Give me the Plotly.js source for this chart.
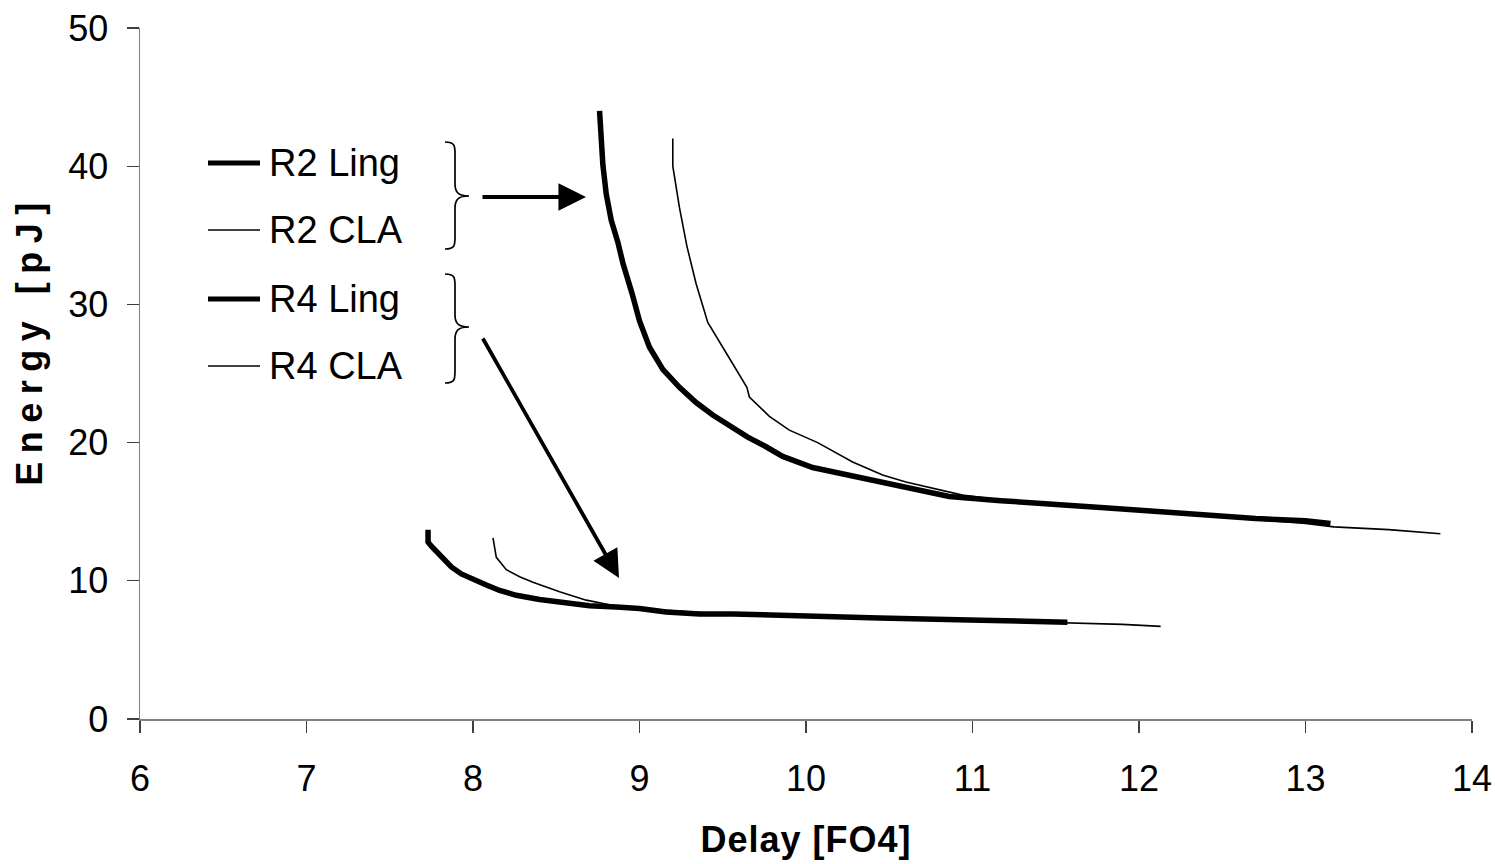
<!DOCTYPE html>
<html>
<head>
<meta charset="utf-8">
<script src="https://cdn.plot.ly/plotly-3.0.1.min.js"></script>
<style>html,body{margin:0;padding:0;background:#fff;}#chart{width:1495px;height:864px;}</style>
</head>
<body>
<div id="chart"></div>
<script>
// ---- data ----
const r2LingX = [8.76, 8.77, 8.78, 8.80, 8.83, 8.87, 8.90, 8.955, 9.00, 9.06, 9.14, 9.24, 9.34, 9.44, 9.55, 9.65, 9.76, 9.86, 10.04, 10.20, 10.37, 10.56, 10.86, 11.17, 11.47, 11.77, 12.07, 12.37, 12.70, 13.00, 13.15];
const r2LingY = [44.0, 42.0, 40.1, 38.0, 36.1, 34.5, 33.0, 30.8, 28.8, 26.9, 25.3, 24.0, 22.9, 22.0, 21.1, 20.4, 19.7, 19.0, 18.2, 17.8, 17.3, 16.8, 16.1, 15.8, 15.6, 15.3, 15.05, 14.75, 14.5, 14.35, 14.15];

const r2ClaX = [9.20, 9.20, 9.24, 9.285, 9.34, 9.41, 9.53, 9.645, 9.66, 9.78, 9.90, 10.07, 10.28, 10.46, 10.60, 10.76, 10.94, 11.2, 11.5, 11.8, 12.1, 12.4, 12.7, 13.0, 13.17, 13.5, 13.81];
const r2ClaY = [42.0, 40.0, 37.0, 34.2, 31.5, 28.7, 26.3, 24.0, 23.3, 21.9, 20.9, 20.0, 18.6, 17.65, 17.15, 16.7, 16.2, 15.8, 15.5, 15.2, 14.95, 14.7, 14.4, 14.15, 13.9, 13.7, 13.4];

const r4LingX = [7.73, 7.73, 7.75, 7.78, 7.82, 7.87, 7.93, 8.00, 8.08, 8.16, 8.26, 8.40, 8.56, 8.70, 8.86, 9.00, 9.16, 9.36, 9.56, 9.96, 10.44, 11.05, 11.57];
const r4LingY = [13.7, 12.8, 12.5, 12.1, 11.6, 11.0, 10.5, 10.1, 9.7, 9.3, 8.95, 8.65, 8.4, 8.2, 8.1, 8.0, 7.75, 7.6, 7.6, 7.45, 7.3, 7.15, 7.0];

const r4ClaX = [8.12, 8.14, 8.20, 8.28, 8.36, 8.52, 8.68, 8.85, 9.0, 9.5, 10.0, 10.5, 11.0, 11.57, 11.9, 12.13];
const r4ClaY = [13.1, 11.7, 10.8, 10.3, 9.9, 9.2, 8.6, 8.2, 8.0, 7.6, 7.45, 7.3, 7.15, 6.95, 6.85, 6.7];

const seriesNames = ["R2 Ling", "R2 CLA", "R4 Ling", "R4 CLA"];
const xTicks = [6, 7, 8, 9, 10, 11, 12, 13, 14];
const yTicks = [0, 10, 20, 30, 40, 50];

// ---- layout helpers (pixel -> data, based on axis ranges & margins) ----
const W = 1495, H = 864, M = {l: 140, r: 23, t: 28, b: 145};
const XR = [6, 14], YR = [0, 50];
const px2x = p => XR[0] + (p - M.l) / (W - M.l - M.r) * (XR[1] - XR[0]);
const px2y = p => YR[0] + (H - M.b - p) / (H - M.t - M.b) * (YR[1] - YR[0]);

const FONT = "Liberation Sans, Arial, sans-serif";
const THICK = 5.5, THIN = 1.6;

const traces = [
  {x: r2ClaX, y: r2ClaY, name: seriesNames[1], mode: "lines", line: {color: "#000", width: THIN}},
  {x: r4ClaX, y: r4ClaY, name: seriesNames[3], mode: "lines", line: {color: "#000", width: THIN}},
  {x: r2LingX, y: r2LingY, name: seriesNames[0], mode: "lines", line: {color: "#000", width: THICK}},
  {x: r4LingX, y: r4LingY, name: seriesNames[2], mode: "lines", line: {color: "#000", width: THICK}}
];

// manual legend
const legRows = [163, 230, 299, 366];
const legThick = [true, false, true, false];
const shapes = [];
const annotations = [];
legRows.forEach((py, i) => {
  shapes.push({type: "line", xref: "x", yref: "y", x0: px2x(208), x1: px2x(260), y0: px2y(py), y1: px2y(py),
    line: {color: "#000", width: legThick[i] ? 5 : 1.3}});
  annotations.push({xref: "x", yref: "y", x: px2x(267), y: px2y(py), text: seriesNames[i], showarrow: false,
    xanchor: "left", yanchor: "middle", font: {family: FONT, size: 38, color: "#000"}});
});

// braces
function bracePath(top, mid, bot) {
  const xl = 445, xs = 455, xt = 469;
  const P = (a, b) => px2x(a) + "," + px2y(b);
  return "M" + P(xl, top) +
    " C" + P(xs, top) + " " + P(xs, top + 4) + " " + P(xs, top + 12) +
    " L" + P(xs, mid - 12) +
    " C" + P(xs, mid - 3) + " " + P(xs + 4, mid) + " " + P(xt, mid) +
    " C" + P(xs + 4, mid) + " " + P(xs, mid + 3) + " " + P(xs, mid + 12) +
    " L" + P(xs, bot - 12) +
    " C" + P(xs, bot - 4) + " " + P(xs, bot) + " " + P(xl, bot);
}
shapes.push({type: "path", xref: "x", yref: "y", path: bracePath(142, 196, 249), line: {color: "#000", width: 1.7}});
shapes.push({type: "path", xref: "x", yref: "y", path: bracePath(274, 327, 383), line: {color: "#000", width: 1.7}});

// arrows
annotations.push({xref: "x", yref: "y", axref: "x", ayref: "y", x: px2x(586), y: px2y(197), ax: px2x(481), ay: px2y(197),
  text: "", showarrow: true, arrowhead: 2, arrowwidth: 3.8, arrowsize: 1.45, arrowcolor: "#000"});
annotations.push({xref: "x", yref: "y", axref: "x", ayref: "y", x: px2x(619), y: px2y(578), ax: px2x(482), ay: px2y(337),
  text: "", showarrow: true, arrowhead: 2, arrowwidth: 3.8, arrowsize: 1.45, arrowcolor: "#000"});

// y title as annotation (positioned as in the reference)
annotations.push({xref: "paper", yref: "paper", x: (30 - M.l) / (W - M.l - M.r), y: (H - M.b - 340) / (H - M.t - M.b),
  text: "<b>Energy [pJ]</b>", textangle: -90, showarrow: false, xanchor: "center", yanchor: "middle",
  font: {family: FONT, size: 36, color: "#000"}, name: "ytitle"});

const layout = {
  width: W, height: H,
  margin: M,
  paper_bgcolor: "#fff", plot_bgcolor: "#fff",
  showlegend: false,
  font: {family: FONT, color: "#000"},
  xaxis: {
    range: XR, tickvals: xTicks, ticktext: xTicks.map(String),
    showgrid: false, zeroline: false, showline: true, linecolor: "#808080", linewidth: 1.5,
    ticks: "outside", ticklen: 12, tickwidth: 1.3, tickcolor: "#404040",
    tickfont: {family: FONT, size: 36, color: "#000"}, ticklabelstandoff: 15,
    title: {text: "<b>Delay [FO4]</b>", font: {family: FONT, size: 36, color: "#000"}, standoff: 29}
  },
  yaxis: {
    range: YR, tickvals: yTicks, ticktext: yTicks.map(String),
    showgrid: false, zeroline: false, showline: true, linecolor: "#808080", linewidth: 1.5,
    ticks: "outside", ticklen: 12, tickwidth: 1.3, tickcolor: "#404040",
    tickfont: {family: FONT, size: 36, color: "#000"}, ticklabelstandoff: 11
  },
  shapes: shapes,
  annotations: annotations
};

Plotly.newPlot("chart", traces, layout, {displayModeBar: false, staticPlot: true}).then(gd => {
  // widen letter spacing of titles to match the reference typesetting
  gd.querySelectorAll(".annotation-text").forEach(t => {
    if (t.textContent === "Energy [pJ]") t.style.letterSpacing = "8.5px";
  });
  const xt = gd.querySelector(".xtitle");
  if (xt) xt.style.letterSpacing = "1px";
});
</script>
</body>
</html>
